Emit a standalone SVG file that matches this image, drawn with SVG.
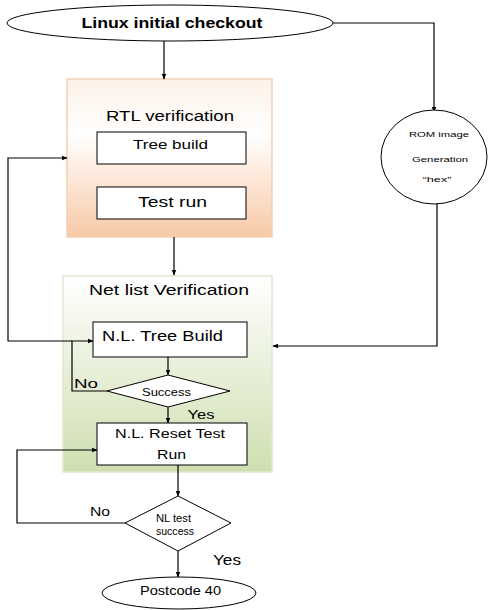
<svg xmlns="http://www.w3.org/2000/svg" width="489" height="610" viewBox="0 0 489 610">
  <style>
    text { font-family: "Liberation Sans", Arial, sans-serif; fill: #000; text-anchor: middle; }
    .term { fill: #fff; stroke: #000; stroke-width: 1; }
    .box { fill: #fff; stroke: #000; stroke-width: 1; }
    .conn { fill: none; stroke: #000; stroke-width: 1.2; marker-end: url(#arrow); }
  </style>
  <defs>
    <marker id="arrow" viewBox="0 0 10 10" refX="9" refY="5" markerWidth="6" markerHeight="6" orient="auto" markerUnits="userSpaceOnUse">
      <path d="M0,1 L10,5 L0,9 Z" fill="#000"/>
    </marker>
    <linearGradient id="rtlFill" x1="0" y1="0" x2="0" y2="1">
      <stop offset="0" stop-color="#fdf1e8"/>
      <stop offset="0.35" stop-color="#ffffff"/>
      <stop offset="1" stop-color="#f8c9a6"/>
    </linearGradient>
    <linearGradient id="netFill" x1="0" y1="0" x2="0" y2="1">
      <stop offset="0" stop-color="#ffffff"/>
      <stop offset="1" stop-color="#cfdfb0"/>
    </linearGradient>
  </defs>

  <!-- container panels -->
  <g id="rtl-verification">
    <rect x="67" y="79" width="205" height="158" fill="url(#rtlFill)" stroke="#f5cfb2" stroke-width="1.5"/>
    <text x="170" y="121" font-size="14" textLength="128" lengthAdjust="spacingAndGlyphs">RTL verification</text>
  </g>
  <g id="netlist-verification">
    <rect x="63" y="276" width="209" height="196" fill="url(#netFill)" stroke="#dfe8cf" stroke-width="1.5"/>
    <text x="169" y="295" font-size="14" textLength="160" lengthAdjust="spacingAndGlyphs">Net list Verification</text>
  </g>

  <!-- connectors -->
  <g id="connectors">
    <path class="conn" d="M164,41 V79"/>
    <path class="conn" d="M333,23 H434 V112"/>
    <path class="conn" d="M174,237 V275"/>
    <path class="conn" d="M437,203 V346 H273"/>
    <path class="conn" d="M168,357 V375"/>
    <path class="conn" d="M107,391 H72 V341 H93"/>
    <path class="conn" d="M72,341 H8 V158 H67"/>
    <path class="conn" d="M168,407 V423"/>
    <path class="conn" d="M178,465 V496"/>
    <path class="conn" d="M125,523 H17 V450 H97"/>
    <path class="conn" d="M178,551 V577"/>
    <text x="86" y="388" font-size="12.5" textLength="24" lengthAdjust="spacingAndGlyphs">No</text>
    <text x="201" y="419" font-size="12.5" textLength="27" lengthAdjust="spacingAndGlyphs">Yes</text>
    <text x="100" y="516" font-size="12.5" textLength="20" lengthAdjust="spacingAndGlyphs">No</text>
    <text x="227" y="565" font-size="14" textLength="28" lengthAdjust="spacingAndGlyphs">Yes</text>
  </g>

  <!-- nodes -->
  <g id="linux-checkout">
    <ellipse class="term" cx="170" cy="23" rx="163" ry="18"/>
    <text x="172" y="28" font-size="14" font-weight="bold" textLength="181" lengthAdjust="spacingAndGlyphs">Linux initial checkout</text>
  </g>
  <g id="tree-build">
    <rect class="box" x="97" y="132" width="149" height="32"/>
    <text x="170.5" y="149" font-size="13" textLength="75" lengthAdjust="spacingAndGlyphs">Tree build</text>
  </g>
  <g id="test-run">
    <rect class="box" x="97" y="187" width="149" height="32"/>
    <text x="172.5" y="207" font-size="15" textLength="69" lengthAdjust="spacingAndGlyphs">Test run</text>
  </g>
  <g id="rom-image">
    <ellipse class="term" cx="434" cy="157" rx="53" ry="47"/>
    <text x="439" y="137" font-size="8" textLength="60" lengthAdjust="spacingAndGlyphs">ROM image</text>
    <text x="440" y="162" font-size="8" textLength="56" lengthAdjust="spacingAndGlyphs">Generation</text>
    <text x="437" y="182" font-size="8" textLength="29" lengthAdjust="spacingAndGlyphs">“hex”</text>
  </g>
  <g id="nl-tree-build">
    <rect class="box" x="93" y="322" width="154" height="35"/>
    <text x="162.5" y="341" font-size="15" textLength="121" lengthAdjust="spacingAndGlyphs">N.L. Tree Build</text>
  </g>
  <g id="success">
    <polygon class="box" points="168,375 230,391 168,407 107,391"/>
    <text x="166.5" y="396" font-size="11" textLength="49" lengthAdjust="spacingAndGlyphs">Success</text>
  </g>
  <g id="nl-reset-test-run">
    <rect class="box" x="97" y="423" width="150" height="42"/>
    <text x="170" y="438" font-size="13" textLength="110" lengthAdjust="spacingAndGlyphs">N.L. Reset Test</text>
    <text x="171.5" y="459" font-size="13" textLength="29" lengthAdjust="spacingAndGlyphs">Run</text>
  </g>
  <g id="nl-test-success">
    <polygon class="box" points="178,496 231,523 178,551 125,523"/>
    <text x="173.5" y="522" font-size="10" textLength="35" lengthAdjust="spacingAndGlyphs">NL test</text>
    <text x="175" y="535" font-size="10" textLength="38" lengthAdjust="spacingAndGlyphs">success</text>
  </g>
  <g id="postcode-40">
    <ellipse class="term" cx="179" cy="593" rx="77" ry="16"/>
    <text x="180.5" y="595" font-size="13" textLength="81" lengthAdjust="spacingAndGlyphs">Postcode 40</text>
  </g>
</svg>
